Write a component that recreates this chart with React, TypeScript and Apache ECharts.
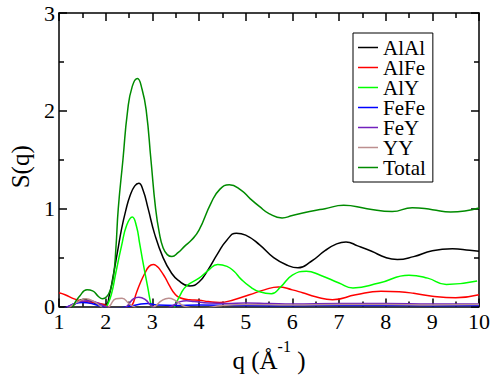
import React, { useEffect, useRef } from "react";
import * as echarts from "echarts";

const seriesNames = ["AlAl", "AlFe", "AlY", "FeFe", "FeY", "YY", "Total"];
const seriesColors = ["#000000", "#ff0000", "#00ff00", "#0000ff", "#7221bc", "#bc8f8f", "#008b00"];

const alAlQ = [1.0, 1.25, 1.35, 1.52, 1.7, 1.85, 2.0, 2.08, 2.16, 2.25, 2.34, 2.43, 2.52, 2.62, 2.71, 2.8, 2.91, 3.05, 3.23, 3.4, 3.55, 3.8, 4.0, 4.2, 4.4, 4.6, 4.8, 5.0, 5.3, 5.6, 5.9, 6.12, 6.4, 6.7, 6.95, 7.15, 7.4, 7.7, 8.0, 8.25, 8.6, 9.0, 9.43, 9.8, 10.0];
const alAlS = [-0.25, -0.02, 0.03, 0.075, 0.05, 0.02, 0.02, 0.12, 0.31, 0.55, 0.79, 0.98, 1.13, 1.23, 1.26, 1.19, 1.0, 0.74, 0.5, 0.35, 0.27, 0.21, 0.25, 0.38, 0.54, 0.68, 0.75, 0.73, 0.63, 0.5, 0.42, 0.395, 0.46, 0.57, 0.64, 0.66, 0.62, 0.565, 0.5, 0.48, 0.51, 0.57, 0.59, 0.575, 0.565];

const alFeQ = [1.0, 1.13, 1.34, 1.55, 1.77, 1.95, 2.05, 2.2, 2.4, 2.55, 2.66, 2.75, 2.84, 2.93, 3.02, 3.1, 3.16, 3.27, 3.37, 3.48, 3.59, 3.8, 4.0, 4.2, 4.44, 4.75, 5.08, 5.4, 5.7, 6.0, 6.22, 6.5, 6.86, 7.36, 7.9, 8.29, 8.6, 9.0, 9.5, 10.0];
const alFeS = [0.14, 0.12, 0.075, 0.05, 0.04, 0.02, 0.0, -0.05, -0.05, 0.0, 0.14, 0.25, 0.34, 0.41, 0.43, 0.41, 0.38, 0.3, 0.21, 0.13, 0.09, 0.07, 0.065, 0.05, 0.04, 0.07, 0.12, 0.17, 0.2, 0.17, 0.14, 0.1, 0.07, 0.12, 0.155, 0.15, 0.135, 0.105, 0.09, 0.12];

const alYQ = [1.0, 1.5, 1.9, 2.02, 2.12, 2.22, 2.34, 2.45, 2.57, 2.66, 2.73, 2.8, 2.9, 2.98, 3.1, 3.3, 3.48, 3.6, 3.73, 4.0, 4.2, 4.4, 4.6, 4.75, 4.9, 5.1, 5.3, 5.55, 5.75, 6.0, 6.3, 6.6, 7.0, 7.3, 7.86, 8.5, 8.9, 9.3, 9.96];
const alYS = [-0.6, -0.5, -0.1, 0.0, 0.12, 0.35, 0.62, 0.83, 0.915, 0.82, 0.64, 0.45, 0.2, 0.0, -0.2, -0.2, 0.0, 0.12, 0.21, 0.29, 0.37, 0.43, 0.41, 0.36, 0.28, 0.2, 0.15, 0.13, 0.2, 0.32, 0.36, 0.32, 0.24, 0.19, 0.24, 0.32, 0.29, 0.225, 0.26];

const feFeQ = [1.0, 1.2, 1.35, 1.5, 1.7, 1.9, 2.1, 2.5, 2.7, 2.9, 3.1, 3.5, 4.0, 5.0, 6.0, 7.0, 8.0, 9.0, 10.0];
const feFeS = [-0.05, 0.0, 0.03, 0.04, 0.03, 0.0, -0.02, 0.0, 0.02, 0.03, 0.015, 0.01, 0.015, 0.01, 0.008, 0.01, 0.01, 0.008, 0.01];

const feYQ = [1.0, 1.2, 1.45, 1.65, 1.85, 2.0, 2.3, 2.45, 2.6, 2.71, 2.85, 3.0, 3.2, 3.4, 3.6, 3.73, 3.9, 4.2, 4.6, 5.0, 5.5, 6.0, 7.0, 8.0, 9.0, 10.0];
const feYS = [-0.05, 0.0, 0.05, 0.06, 0.03, 0.0, -0.05, 0.0, 0.08, 0.095, 0.07, 0.0, -0.03, 0.0, 0.05, 0.058, 0.05, 0.035, 0.03, 0.035, 0.03, 0.025, 0.03, 0.03, 0.025, 0.025];

const yyQ = [1.0, 1.25, 1.45, 1.58, 1.75, 1.9, 2.0, 2.08, 2.22, 2.35, 2.5, 2.6, 2.8, 3.05, 3.2, 3.35, 3.5, 3.7, 4.0, 4.5, 5.0, 6.0, 7.0, 8.0, 9.0, 10.0];
const yyS = [-0.1, 0.0, 0.06, 0.08, 0.05, 0.0, -0.03, 0.0, 0.08, 0.085, 0.03, 0.0, -0.05, 0.0, 0.06, 0.085, 0.06, 0.0, -0.02, 0.01, 0.02, 0.015, 0.02, 0.02, 0.015, 0.02];

const totalQ = [1.0, 1.3, 1.45, 1.6, 1.72, 1.85, 1.93, 2.02, 2.1, 2.17, 2.22, 2.27, 2.37, 2.47, 2.57, 2.68, 2.78, 2.87, 2.97, 3.07, 3.15, 3.23, 3.32, 3.42, 3.55, 3.7, 3.84, 4.0, 4.26, 4.45, 4.65, 4.9, 5.1, 5.3, 5.5, 5.78, 6.0, 6.37, 6.7, 7.1, 7.6, 8.14, 8.57, 9.0, 9.39, 10.0];
const totalS = [-0.4, 0.0, 0.11, 0.17, 0.16, 0.1, 0.08, 0.1, 0.17, 0.32, 0.6, 1.0, 1.5, 2.0, 2.25, 2.33, 2.22, 2.0, 1.5, 1.0, 0.75, 0.6, 0.53, 0.51, 0.55, 0.62, 0.68, 0.78, 1.06, 1.2, 1.245, 1.19, 1.1, 1.02, 0.95, 0.905, 0.93, 0.97, 1.0, 1.034, 1.0, 0.97, 1.01, 0.99, 0.966, 1.007];

const seriesQ = [alAlQ, alFeQ, alYQ, feFeQ, feYQ, yyQ, totalQ];
const seriesS = [alAlS, alFeS, alYS, feFeS, feYS, yyS, totalS];

const FONT = "Liberation Serif";

export default function App() {
  const ref = useRef<HTMLDivElement>(null);
  useEffect(() => {
    if (!ref.current) return;
    const chart = echarts.init(ref.current, null, { renderer: "svg" });
    const axisLineStyle = { color: "#000", width: 1.5 };
    const series = seriesNames.map((name, i) => ({
      name,
      type: "line",
      data: seriesQ[i].map((q, j) => [q, seriesS[i][j]]),
      smooth: 0.5,
      symbol: "none",
      lineStyle: { color: seriesColors[i], width: 1.5 },
      itemStyle: { color: seriesColors[i] },
      z: 2 + i,
    }));
    chart.setOption({
      animation: false,
      grid: { left: 59, right: 13, top: 13, bottom: 71 },
      legend: {
        orient: "vertical",
        left: 353,
        top: 33,
        data: seriesNames.map((n) => ({ name: n, icon: "rect" })),
        backgroundColor: "#fff",
        borderColor: "#000",
        borderWidth: 1,
        borderRadius: 0,
        padding: [4, 7, 4, 5],
        itemGap: -1,
        itemWidth: 20,
        itemHeight: 1.5,
        selectedMode: false,
        textStyle: { fontFamily: FONT, fontSize: 21, lineHeight: 20, color: "#000" },
      },
      xAxis: [
        {
          type: "value",
          min: 1,
          max: 10,
          interval: 1,
          position: "bottom",
          axisLine: { show: true, onZero: false, lineStyle: axisLineStyle },
          axisTick: { show: true, inside: true, length: 8, lineStyle: axisLineStyle },
          minorTick: { show: true, splitNumber: 2, length: 5, lineStyle: axisLineStyle },
          splitLine: { show: false },
          axisLabel: { fontFamily: FONT, fontSize: 22, color: "#000", margin: 4 },
          name: "{a|q (Å}{s|-1}{a| )}",
          nameLocation: "middle",
          nameGap: 32,
          nameTextStyle: {
            fontFamily: FONT,
            fontSize: 25,
            color: "#000",
            rich: {
              a: { fontFamily: FONT, fontSize: 25, lineHeight: 44, color: "#000" },
              s: { fontFamily: FONT, fontSize: 16, lineHeight: 16, verticalAlign: "top", color: "#000" },
            },
          },
        },
        {
          type: "value",
          min: 1,
          max: 10,
          interval: 1,
          position: "top",
          axisLine: { show: true, onZero: false, lineStyle: axisLineStyle },
          axisTick: { show: true, inside: true, length: 8, lineStyle: axisLineStyle },
          minorTick: { show: true, splitNumber: 2, length: 5, lineStyle: axisLineStyle },
          splitLine: { show: false },
          axisLabel: { show: false },
        },
      ],
      yAxis: [
        {
          type: "value",
          min: 0,
          max: 3,
          interval: 1,
          position: "left",
          axisLine: { show: true, onZero: false, lineStyle: axisLineStyle },
          axisTick: { show: true, inside: true, length: 8, lineStyle: axisLineStyle },
          minorTick: { show: true, splitNumber: 2, length: 5, lineStyle: axisLineStyle },
          splitLine: { show: false },
          axisLabel: { fontFamily: FONT, fontSize: 22, color: "#000", margin: 4 },
          name: "S(q)",
          nameLocation: "middle",
          nameGap: 21,
          nameTextStyle: { fontFamily: FONT, fontSize: 25, color: "#000", padding: [0, 14, 0, 0] },
        },
        {
          type: "value",
          min: 0,
          max: 3,
          interval: 1,
          position: "right",
          axisLine: { show: true, onZero: false, lineStyle: axisLineStyle },
          axisTick: { show: true, inside: true, length: 8, lineStyle: axisLineStyle },
          minorTick: { show: true, splitNumber: 2, length: 5, lineStyle: axisLineStyle },
          splitLine: { show: false },
          axisLabel: { show: false },
        },
      ],
      series,
    });
    return () => chart.dispose();
  }, []);
  return <div ref={ref} style={{ width: 493, height: 378, position: "absolute", left: 0, top: 0 }} />;
}
